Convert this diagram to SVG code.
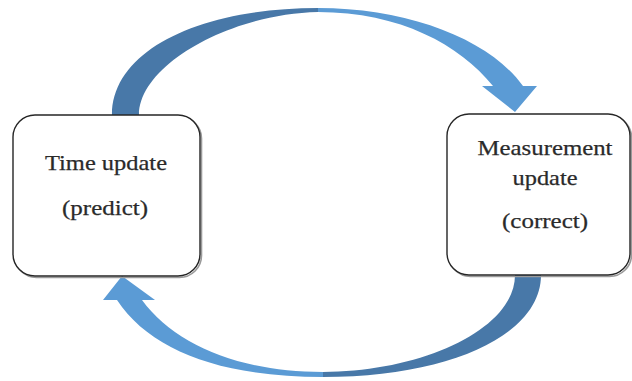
<svg xmlns="http://www.w3.org/2000/svg" width="632" height="381" viewBox="0 0 632 381">
  <style>
    .box { fill: #ffffff; stroke: #262626; stroke-width: 1.4; }
    .shadow { fill: none; stroke: #9a9a9a; stroke-width: 1.6; }
    .label { font-family: "Liberation Serif", "Times New Roman", serif; font-size: 22px; fill: #2a2a2a; stroke: #2a2a2a; stroke-width: 0.25; text-anchor: middle; }
    .back { fill: #4878a8; }
    .front { fill: #5b9bd5; }
  </style>
  <rect width="632" height="381" fill="#ffffff"/>

  <!-- curved arrows between the two steps -->
  <g id="connectors">
    <!-- upper arrow: time update -> measurement update -->
    <path class="back" d="M112,115 C112,50 200,8 318,8 L318,12 C230,14 139,65 139,115 Z"/>
    <path class="front" d="M318,8 C410,8 490,40 523,86 L537,86 L515,112 L482,86 L493,86 C460,45 400,12 318,12 Z"/>
    <!-- lower arrow: measurement update -> time update -->
    <path class="back" d="M541,275 C541,335 450,377 323,377 L323,372 C420,372 515,330 515,275 Z"/>
    <path class="front" d="M323,377 C220,377 150,350 117,300 L103,300 L122,276 L155,300 L142,300 C175,345 240,372 323,372 Z"/>
  </g>

  <g id="time-update">
    <rect class="shadow" x="14.5" y="116.5" width="187" height="161" rx="22"/>
    <rect class="box" x="13" y="115" width="187" height="161" rx="22"/>
    <text class="label" x="106" y="170" textLength="122" lengthAdjust="spacingAndGlyphs">Time update</text>
    <text class="label" x="105" y="215" textLength="86" lengthAdjust="spacingAndGlyphs">(predict)</text>
  </g>

  <g id="measurement-update">
    <rect class="shadow" x="448.5" y="115.5" width="183" height="161" rx="22"/>
    <rect class="box" x="447" y="114" width="183" height="161" rx="22"/>
    <text class="label" x="545" y="155" textLength="135" lengthAdjust="spacingAndGlyphs">Measurement</text>
    <text class="label" x="545" y="185" textLength="65" lengthAdjust="spacingAndGlyphs">update</text>
    <text class="label" x="545" y="228" textLength="86" lengthAdjust="spacingAndGlyphs">(correct)</text>
  </g>
</svg>
